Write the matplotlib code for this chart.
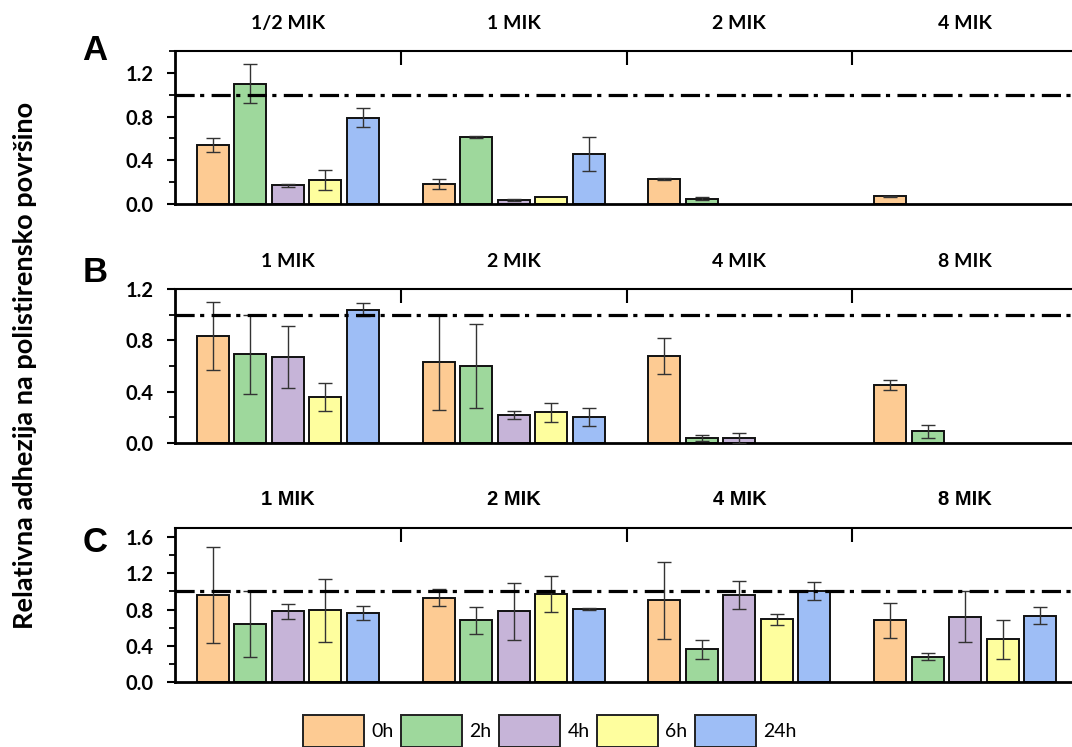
import numpy as np
import matplotlib
matplotlib.use("Agg")
import matplotlib.pyplot as plt
from matplotlib.patches import Patch
from matplotlib.ticker import MultipleLocator, FixedLocator

# ---------------- data ----------------
series = ["0h", "2h", "4h", "6h", "24h"]
colors = ["#FDCB93", "#9ED89C", "#C6B4D8", "#FEFE9E", "#9EBEF6"]

groups_A = ["1/2 MIK", "1 MIK", "2 MIK", "4 MIK"]
groups_B = ["1 MIK", "2 MIK", "4 MIK", "8 MIK"]
groups_C = ["1 MIK", "2 MIK", "4 MIK", "8 MIK"]

nan = np.nan
# rows = groups, columns = series (0h, 2h, 4h, 6h, 24h)
vals_A = [[0.54, 1.10, 0.17, 0.22, 0.79],
          [0.18, 0.61, 0.04, 0.06, 0.46],
          [0.23, 0.05, nan, nan, nan],
          [0.07, nan, nan, nan, nan]]
err_A = [[0.06, 0.18, 0.01, 0.095, 0.09],
         [0.045, 0.01, 0.01, 0.0, 0.155],
         [0.01, 0.01, nan, nan, nan],
         [0.005, nan, nan, nan, nan]]

vals_B = [[0.83, 0.69, 0.67, 0.36, 1.04],
          [0.63, 0.60, 0.22, 0.24, 0.20],
          [0.68, 0.04, 0.04, nan, nan],
          [0.45, 0.09, nan, nan, nan]]
err_B = [[0.265, 0.31, 0.24, 0.11, 0.05],
         [0.37, 0.33, 0.03, 0.075, 0.07],
         [0.14, 0.025, 0.04, nan, nan],
         [0.04, 0.05, nan, nan, nan]]

vals_C = [[0.96, 0.64, 0.78, 0.79, 0.76],
          [0.93, 0.68, 0.78, 0.97, 0.81],
          [0.90, 0.36, 0.96, 0.69, 1.00],
          [0.68, 0.28, 0.72, 0.47, 0.73]]
err_C = [[0.53, 0.36, 0.08, 0.35, 0.08],
         [0.095, 0.15, 0.315, 0.20, 0.01],
         [0.43, 0.105, 0.15, 0.063, 0.10],
         [0.195, 0.04, 0.28, 0.215, 0.093]]

reference_level = 1.0

# ---------------- figure ----------------
W, H = 1072, 747
fig = plt.figure(figsize=(W / 100, H / 100), dpi=100)

def fx(px):
    return px / W

def fy(py):
    return 1 - py / H

lato = ["Lato", "DejaVu Sans"]
arial = ["Liberation Sans", "DejaVu Sans"]

panels = [
    ("A", groups_A, vals_A, err_A, 1.4, 51, 204, lato, 14),
    ("B", groups_B, vals_B, err_B, 1.2, 289, 443, lato, 14),
    ("C", groups_C, vals_C, err_C, 1.7, 528, 682, arial, 14.5),
]

left_px, right_px = 175, 1078
pitch = 0.166
width = 0.142

letter_y = {"A": 51, "B": 273, "C": 543}

for letter, groups, vals, errs, ytop, top_px, bot_px, gfam, gsize in panels:
    ax = fig.add_axes([fx(left_px), fy(bot_px), fx(right_px - left_px),
                       (bot_px - top_px) / H])
    vals = np.array(vals, dtype=float)
    errs = np.array(errs, dtype=float)
    centers = np.arange(len(groups)) + 0.5
    for k in range(len(series)):
        xs = centers + (k - 2) * pitch
        v = vals[:, k]
        e = errs[:, k]
        ax.bar(xs, v, width=width, color=colors[k], edgecolor="#111111",
               linewidth=1.4, zorder=2)
        m = ~np.isnan(v) & ~np.isnan(e) & (np.nan_to_num(e) > 0)
        ax.errorbar(xs[m], v[m], yerr=e[m], fmt="none", ecolor="#333333",
                    elinewidth=1.0, capsize=5, capthick=1.0, zorder=3)
    ax.axhline(reference_level, color="black", lw=2.3,
               linestyle=(0, (6, 1.7, 1.3, 2.3)), zorder=4)
    ax.set_xlim(0, len(groups))
    ax.set_ylim(0, ytop)

    # y axis
    yt = np.arange(0, ytop + 0.001, 0.4)
    ax.yaxis.set_minor_locator(MultipleLocator(0.2))
    ax.set_yticks(yt)
    ax.set_yticklabels([f"{t:.1f}" for t in yt], family=lato,
                       weight="bold", size=14.5)
    ax.tick_params(axis="y", which="major", direction="out", length=6,
                   width=1.5, pad=9.5)
    ax.tick_params(axis="y", which="minor", direction="out", length=4,
                   width=1.3)

    # x axis on top with group labels
    ax.xaxis.tick_top()
    ax.set_xticks(centers)
    ax.set_xticklabels(groups, family=gfam, weight="bold", size=gsize)
    ax.xaxis.set_minor_locator(FixedLocator(np.arange(1, len(groups))))
    ax.tick_params(axis="x", which="major", length=0, pad=14)
    ax.tick_params(axis="x", which="minor", direction="in", length=10,
                   width=1.5, top=True, bottom=False)

    for s in ["left", "bottom"]:
        ax.spines[s].set_linewidth(2.0)
    ax.spines["top"].set_linewidth(1.5)
    ax.spines["right"].set_visible(False)

    fig.text(fx(95), fy(letter_y[letter]), letter, ha="center", va="center",
             family=arial, weight="bold", size=25)

fig.text(fx(25), fy(365), "Relativna adhezija na polistirensko površino",
         rotation=90, ha="center", va="center",
         family=lato, weight="bold", size=19.5)

handles = [Patch(facecolor=c, edgecolor="#222222", linewidth=1.4)
           for c in colors]
fig.legend(handles, series, loc="center", ncol=5, frameon=False,
           bbox_to_anchor=(fx(550), fy(731)),
           prop=dict(family=lato, size=14),
           handlelength=3.1, handleheight=2.2, handletextpad=0.4,
           columnspacing=0.4, borderaxespad=0)

fig.savefig("out.png", dpi=100)
